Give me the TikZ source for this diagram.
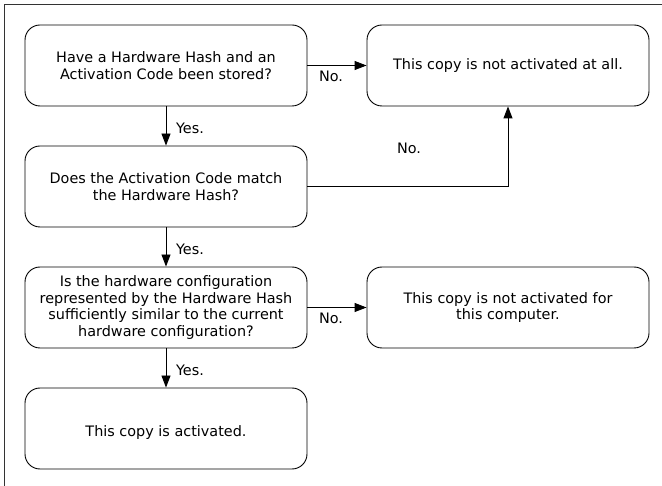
\documentclass[tikz,border=0pt]{standalone}
\usepackage{fontspec}
\setmainfont{DejaVu Sans}
\usetikzlibrary{arrows.meta}
\begin{document}
\begin{tikzpicture}[x=1pt,y=-1pt,
  txt/.style={font=\fontsize{14.4}{16.8}\selectfont},
  box/.style={txt, draw=black, line width=0.9pt, rounded corners=15pt,
    minimum width=282pt, minimum height=81pt, align=center, inner sep=0pt},
  flow/.style={draw=black, line width=0.9pt, -{Triangle[length=12pt,width=9pt]}},
  lbl/.style={txt, inner sep=0pt}]
  \useasboundingbox (0,0) rectangle (662,486);
  % frame
  \draw[line width=1pt, black!80] (4,486) -- (4,5) -- (662,5);
  % decision boxes
  \node[box] (q1) at (166,65.5) {Have a Hardware Hash and an\\Activation Code been stored?};
  \node[box] (q2) at (166,186.5) {Does the Activation Code match\\the Hardware Hash?};
  \node[box] (q3) at (166,307.5) {Is the hardware configuration\\represented by the Hardware Hash\\sufficiently similar to the current\\hardware configuration?};
  % outcome boxes
  \node[box] (r1) at (508,65.5) {This copy is not activated at all.};
  \node[box] (r2) at (508,307.5) {This copy is not activated for\\this computer.};
  \node[box, label={[lbl,yshift=-4.5pt]center:This copy is activated.}] (r3) at (166,428.5) {};
  % connectors
  \draw[flow] (q1) -- (r1);
  \draw[flow] (q1) -- (q2);
  \draw[flow] (q2.east) -| (r1.south);
  \draw[flow] (q2) -- (q3);
  \draw[flow] (q3) -- (r2);
  \draw[flow] (q3) -- (r3);
  % labels
  \node[lbl] (n1) at (331,76) {No.};
  \node[lbl] (n2) at (409,148) {No.};
  \node[lbl] (n3) at (331,318) {No.};
  \node[lbl] (y1) at (190,128) {Yes.};
  \node[lbl] (y2) at (190,249) {Yes.};
  \node[lbl] (y3) at (190,370) {Yes.};
\end{tikzpicture}
\end{document}
